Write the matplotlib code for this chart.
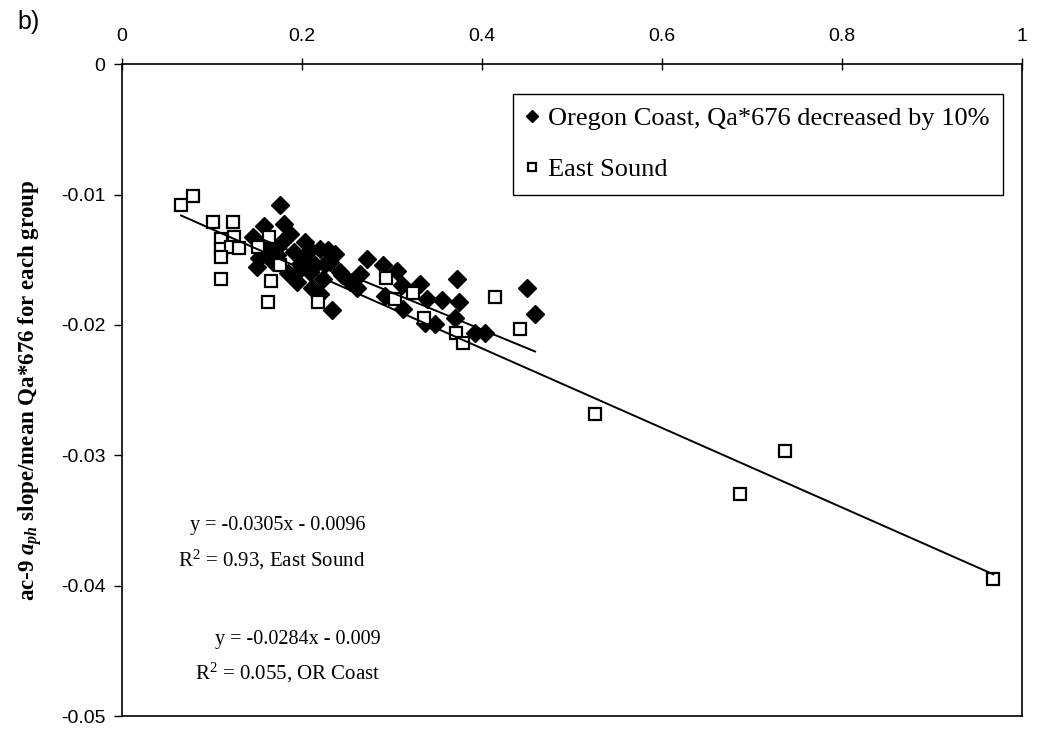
import matplotlib

matplotlib.use("Agg")
import matplotlib.pyplot as plt
import numpy as np

# Oregon Coast (diamonds)
or_x = [0.1756, 0.1578, 0.1800, 0.1867, 0.1456, 0.1500, 0.1522, 0.1678, 0.1722,
        0.1844, 0.1944, 0.1944, 0.2011, 0.2089, 0.2200, 0.2289, 0.2144, 0.2311,
        0.2422, 0.2111, 0.2200, 0.2333, 0.2233, 0.2444, 0.2644, 0.2611, 0.2533,
        0.2722, 0.2900, 0.3056, 0.3111, 0.3311, 0.3389, 0.3556, 0.3122, 0.3722,
        0.3744, 0.3700, 0.3922, 0.4033, 0.4500, 0.4589, 0.3367, 0.3478, 0.2922,
        0.1978, 0.1911, 0.2033, 0.1622, 0.1778, 0.2089, 0.2256, 0.2367]
or_y = [-0.01078, -0.01239, -0.01223, -0.01300, -0.01323, -0.01552, -0.01483,
        -0.01514, -0.01460, -0.01598, -0.01590, -0.01674, -0.01491, -0.01422,
        -0.01414, -0.01422, -0.01537, -0.01514, -0.01590, -0.01720, -0.01766,
        -0.01888, -0.01644, -0.01613, -0.01606, -0.01720, -0.01667, -0.01491,
        -0.01537, -0.01583, -0.01690, -0.01682, -0.01804, -0.01812, -0.01881,
        -0.01644, -0.01820, -0.01950, -0.02064, -0.02064, -0.01720, -0.01919,
        -0.01988, -0.01995, -0.01781, -0.01529, -0.01437, -0.01361, -0.01407,
        -0.01361, -0.01590, -0.01529, -0.01453]

# East Sound (open squares)
es_x = [0.0656, 0.0789, 0.1011, 0.1233, 0.1100, 0.1244, 0.1100, 0.1211, 0.1300,
        0.1100, 0.1100, 0.1633, 0.1511, 0.1656, 0.1622, 0.2178, 0.1756, 0.2933,
        0.3033, 0.3233, 0.3356, 0.4144, 0.3711, 0.4422, 0.3789, 0.5260, 0.6870,
        0.7370, 0.9680]
es_y = [-0.01078, -0.01009, -0.01208, -0.01208, -0.01338, -0.01323, -0.01414,
        -0.01399, -0.01407, -0.01476, -0.01644, -0.01323, -0.01399, -0.01659,
        -0.01820, -0.01820, -0.01537, -0.01636, -0.01797, -0.01758, -0.01950,
        -0.01789, -0.02064, -0.02034, -0.02141, -0.0268, -0.0330, -0.0297,
        -0.0395]

# linear fits: (slope, intercept)
es_fit = (-0.0305, -0.0096)
or_fit = (-0.0284, -0.009)

x_ticks = [0, 0.2, 0.4, 0.6, 0.8, 1.0]
x_tick_labels = ["0", "0.2", "0.4", "0.6", "0.8", "1"]
y_ticks = [0, -0.01, -0.02, -0.03, -0.04, -0.05]
y_tick_labels = ["0", "-0.01", "-0.02", "-0.03", "-0.04", "-0.05"]

SERIF = "Liberation Serif"
SANS = "Liberation Sans"

# mathtext: regular serif for superscripts, bold italic for a_ph
plt.rcParams["mathtext.fontset"] = "custom"
plt.rcParams["mathtext.rm"] = "Liberation Serif"
plt.rcParams["mathtext.it"] = "Liberation Serif:italic:bold"
plt.rcParams["mathtext.bf"] = "Liberation Serif:bold"

fig = plt.figure(figsize=(10.43, 7.30), dpi=100)
ax = fig.add_axes([0.117, 0.019, 0.863, 0.893])

ax.plot(or_x, or_y, linestyle="none", marker="D", markersize=9.5,
        color="black", label="Oregon Coast, Qa*676 decreased by 10%", zorder=3)
ax.plot(es_x, es_y, linestyle="none", marker="s", markersize=8.5,
        markerfacecolor="white", markeredgecolor="black", markeredgewidth=1.6,
        label="East Sound", zorder=3)

for xs, (m, b) in ((es_x, es_fit), (or_x, or_fit)):
    fx = np.array([min(xs), max(xs)])
    ax.plot(fx, m * fx + b, color="black", linewidth=1.4, zorder=4)

ax.set_xlim(0, 1)
ax.set_ylim(-0.05, 0)
ax.xaxis.tick_top()
ax.set_xticks(x_ticks)
ax.set_xticklabels(x_tick_labels, fontfamily=SANS, fontsize=14)
ax.set_yticks(y_ticks)
ax.set_yticklabels(y_tick_labels, fontfamily=SANS, fontsize=14)
ax.tick_params(axis="x", direction="inout", length=8, width=1, pad=10)
ax.tick_params(axis="y", direction="out", length=6, width=1, pad=6)
for spine in ax.spines.values():
    spine.set_linewidth(1.2)

ax.set_ylabel(r"ac-9 $a_{ph}$ slope/mean Qa*676 for each group",
              fontfamily=SERIF, fontweight="bold", fontsize=16.5, labelpad=12)

leg = ax.legend(loc="upper left", bbox_to_anchor=(0.434, 0.955),
                borderaxespad=0, prop={"family": SERIF, "size": 19},
                frameon=True, fancybox=False, edgecolor="black", framealpha=1,
                handlelength=0.5, handletextpad=0.35, borderpad=0.5,
                labelspacing=1.05, markerscale=0.65)
leg.get_frame().set_linewidth(1.0)

ax.text(0.173, -0.0354, "y = -0.0305x - 0.0096", fontfamily=SERIF,
        fontsize=14.5, ha="center", va="center")
ax.text(0.166, -0.0380, "R$^{2}$ = 0.93, East Sound", fontfamily=SERIF,
        fontsize=15, ha="center", va="center")
ax.text(0.195, -0.0441, "y = -0.0284x - 0.009", fontfamily=SERIF,
        fontsize=14.5, ha="center", va="center")
ax.text(0.184, -0.0467, "R$^{2}$ = 0.055, OR Coast", fontfamily=SERIF,
        fontsize=15, ha="center", va="center")

fig.text(0.017, 0.970, "b)", fontfamily=SANS, fontsize=18, ha="left", va="center")

fig.savefig("out.png", dpi=100)
